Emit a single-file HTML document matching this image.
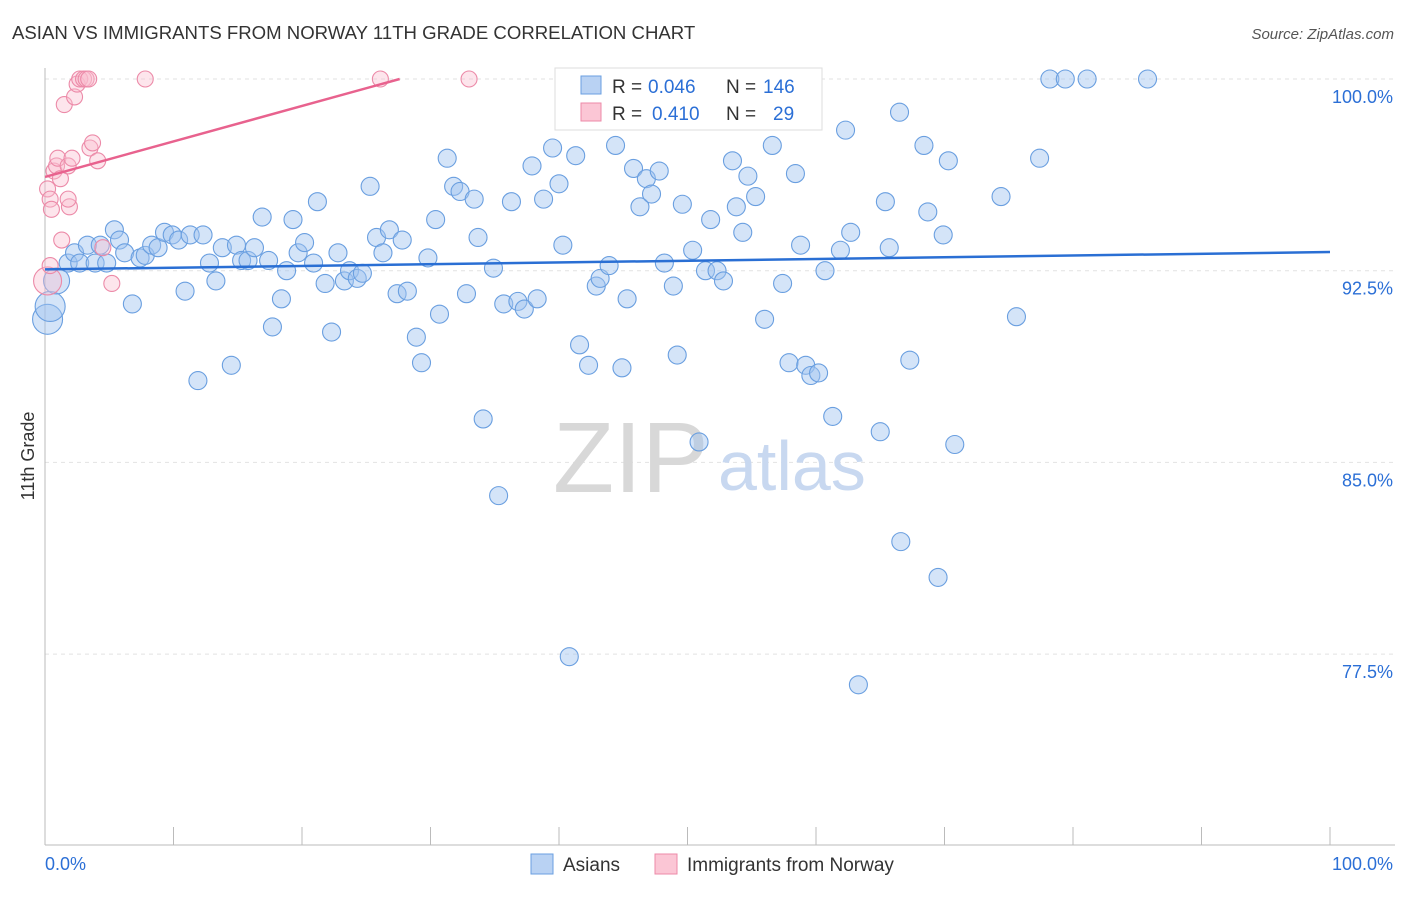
<!DOCTYPE html>
<html><head><meta charset="utf-8"><style>
body{margin:0;background:#fff;font-family:"Liberation Sans",sans-serif;}
svg text{font-family:"Liberation Sans",sans-serif;}
</style></head><body>
<svg id="c" width="1406" height="892">
<text x="12" y="39" font-size="18.6" fill="#333">ASIAN VS IMMIGRANTS FROM NORWAY 11TH GRADE CORRELATION CHART</text>
<text x="1394" y="39" font-size="15" fill="#555" text-anchor="end" font-style="italic">Source: ZipAtlas.com</text>
<text x="0" y="0" transform="translate(34,456) rotate(-90)" font-size="18" fill="#333" text-anchor="middle">11th Grade</text>
<g id="grid"></g>
<text x="553" y="492" font-size="100" fill="#d8d8d8" font-family="Liberation Serif">ZIP</text>
<text x="718" y="490" font-size="70" fill="#c8d8f0">atlas</text>
<g id="pts"></g>
<g id="lines"></g>
<g>
<rect x="555" y="68" width="267" height="62" fill="#fff" stroke="#ddd"/>
<rect x="581" y="76" width="20" height="18" fill="#b9d2f3" stroke="#6a9fe0"/>
<rect x="581" y="103" width="20" height="18" fill="#fbc6d5" stroke="#ec8aa8"/>
<text x="612" y="93" font-size="19" fill="#333">R =</text>
<text x="648" y="93" font-size="19" fill="#2b6fd6">0.046</text>
<text x="726" y="93" font-size="19" fill="#333">N =</text>
<text x="763" y="93" font-size="19" fill="#2b6fd6">146</text>
<text x="612" y="120" font-size="19" fill="#333">R =</text>
<text x="652" y="120" font-size="19" fill="#2b6fd6">0.410</text>
<text x="726" y="120" font-size="19" fill="#333">N =</text>
<text x="773" y="120" font-size="19" fill="#2b6fd6">29</text>
</g>
<g>
<rect x="531" y="854" width="22" height="20" fill="#b9d2f3" stroke="#6a9fe0"/>
<text x="563" y="871" font-size="19" fill="#333">Asians</text>
<rect x="655" y="854" width="22" height="20" fill="#fbc6d5" stroke="#ec8aa8"/>
<text x="687" y="871" font-size="19" fill="#333">Immigrants from Norway</text>
</g>
</svg>
<script>
const yTicks=[100,92.5,85,77.5];
const yTickLabels=["100.0%","92.5%","85.0%","77.5%"];
const xTickLabels=["0.0%","100.0%"];
const blueX=[0.2,0.4,0.9,1.8,2.3,2.7,3.3,3.9,4.3,4.8,5.4,5.8,6.2,6.8,7.4,7.8,8.3,8.8,9.3,9.9,10.4,10.9,11.3,11.9,12.3,12.8,13.3,13.8,14.5,14.9,15.3,15.8,16.3,16.9,17.4,17.7,18.4,18.8,19.3,19.7,20.2,20.9,21.2,21.8,22.3,22.8,23.3,23.7,24.3,24.7,25.3,25.8,26.3,26.8,27.4,27.8,28.2,28.9,29.3,29.8,30.4,30.7,31.3,31.8,32.3,32.8,33.4,33.7,34.1,34.9,35.3,35.7,36.3,36.8,37.3,37.9,38.3,38.8,39.5,40.0,40.3,40.8,41.3,41.6,42.3,42.9,43.2,43.9,44.4,44.9,45.3,45.8,46.3,46.8,47.2,47.8,48.2,48.9,49.2,49.6,50.4,50.9,51.4,51.8,52.3,52.8,53.5,53.8,54.3,54.7,55.3,56.0,56.6,57.4,57.9,58.4,58.8,59.2,59.6,60.2,60.7,61.3,61.9,62.3,62.7,63.3,65.0,65.4,65.7,66.5,66.6,67.3,68.4,68.7,69.5,69.9,70.3,70.8,74.4,75.6,77.4,78.2,79.4,81.1,85.8,56.0];
const blueY=[90.6,91.1,92.1,92.8,93.2,92.8,93.5,92.8,93.5,92.8,94.1,93.7,93.2,91.2,93.0,93.1,93.5,93.4,94.0,93.9,93.7,91.7,93.9,88.2,93.9,92.8,92.1,93.4,88.8,93.5,92.9,92.9,93.4,94.6,92.9,90.3,91.4,92.5,94.5,93.2,93.6,92.8,95.2,92.0,90.1,93.2,92.1,92.5,92.2,92.4,95.8,93.8,93.2,94.1,91.6,93.7,91.7,89.9,88.9,93.0,94.5,90.8,96.9,95.8,95.6,91.6,95.3,93.8,86.7,92.6,83.7,91.2,95.2,91.3,91.0,96.6,91.4,95.3,97.3,95.9,93.5,77.4,97.0,89.6,88.8,91.9,92.2,92.7,97.4,88.7,91.4,96.5,95.0,96.1,95.5,96.4,92.8,91.9,89.2,95.1,93.3,85.8,92.5,94.5,92.5,92.1,96.8,95.0,94.0,96.2,95.4,90.6,97.4,92.0,88.9,96.3,93.5,88.8,88.4,88.5,92.5,86.8,93.3,98.0,94.0,76.3,86.2,95.2,93.4,98.7,81.9,89.0,97.4,94.8,80.5,93.9,96.8,85.7,95.4,90.7,96.9,100,100,100,100,98.5];
const pinkX=[0.2,0.4,0.2,0.4,0.5,0.7,0.9,1.0,1.2,1.3,1.5,1.8,1.9,2.1,1.8,2.3,2.5,2.7,3.0,3.2,3.4,3.5,3.7,4.1,4.5,5.2,7.8,26.1,33.0];
const pinkY=[92.1,92.7,95.7,95.3,94.9,96.4,96.6,96.9,96.1,93.7,99.0,96.6,95.0,96.9,95.3,99.3,99.8,100,100,100,100,97.3,97.5,96.8,93.4,92.0,100,100,100];
const blueTrend=[92.55,93.23];
const pinkTrend=[96.17,100];
const pinkTrendEndX=27.6;
const X0=45,X1=1330,YT=79,YPX=25.56;
const sx=v=>X0+(X1-X0)*v/100;
const sy=v=>YT+(100-v)*YPX;
const NS="http://www.w3.org/2000/svg";
function mk(t,a,p){const e=document.createElementNS(NS,t);for(const k in a)e.setAttribute(k,a[k]);p.appendChild(e);return e;}
const grid=document.getElementById('grid');
yTicks.forEach((v,i)=>{
 const l=mk('line',{x1:X0,x2:1395,y1:sy(v),y2:sy(v),stroke:'#e2e2e2','stroke-dasharray':'4,4'},grid);
 
 
 const t=mk('text',{x:1393,y:sy(v)+24,'font-size':18,fill:'#2b6fd6','text-anchor':'end'},grid);
 t.textContent=yTickLabels[i];
 
 
});
const ax=mk('line',{x1:X0,x2:X0,y1:68,y2:845,stroke:'#bbb'},grid);


const bx=mk('line',{x1:X0,x2:1395,y1:845,y2:845,stroke:'#bbb'},grid);


for(let i=0;i<=10;i++){
 const t=mk('line',{x1:sx(i*10),x2:sx(i*10),y1:827,y2:845,stroke:'#bbb'},grid);
 
 
}
[[0,'start',45],[100,'end',1393]].forEach((d,i)=>{
 const t=mk('text',{x:d[2],y:870,'font-size':18,fill:'#2b6fd6','text-anchor':d[1]},grid);
 t.textContent=xTickLabels[i];
 
 
});
const pts=document.getElementById('pts');
blueX.forEach((x,i)=>{
 const r=i<2?15:(i==2?13:9);
 const c=mk('circle',{cx:sx(x),cy:sy(blueY[i]),r:r,fill:'rgba(160,196,240,0.45)',stroke:'#6a9fe0','stroke-width':1.1},pts);
 
 
});
pinkX.forEach((x,i)=>{
 const r=i==0?14:8;
 const c=mk('circle',{cx:sx(x),cy:sy(pinkY[i]),r:r,fill:'rgba(250,190,208,0.4)',stroke:'#ec8aa8','stroke-width':1.1},pts);
 
 
});
const lines=document.getElementById('lines');
const bl=mk('line',{x1:sx(0),y1:sy(blueTrend[0]),x2:sx(100),y2:sy(blueTrend[1]),stroke:'#2a6fd4','stroke-width':2.5},lines);


const pl=mk('line',{x1:sx(0),y1:sy(pinkTrend[0]),x2:sx(pinkTrendEndX),y2:sy(pinkTrend[1]),stroke:'#e8628e','stroke-width':2.5},lines);


</script>
</body></html>
